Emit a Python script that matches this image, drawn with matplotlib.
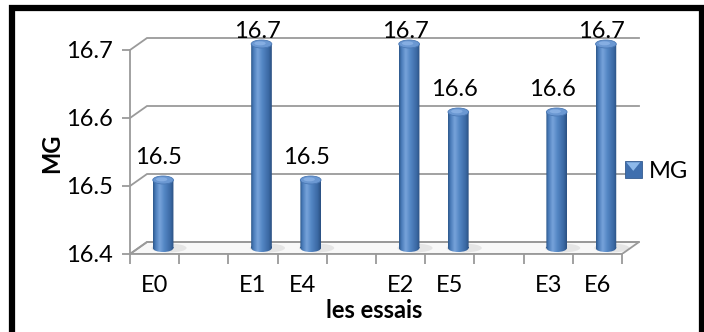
import numpy as np
import matplotlib
matplotlib.use("Agg")
import matplotlib.pyplot as plt
from matplotlib.patches import Polygon, Ellipse, Rectangle, PathPatch
from matplotlib.path import Path
from matplotlib.legend_handler import HandlerBase
from matplotlib.colors import LinearSegmentedColormap

# ---------------- data ----------------
categories = ["E0", "", "E1", "E4", "", "E2", "E5", "", "E3", "E6"]
values = [16.5, None, 16.7, 16.5, None, 16.7, 16.6, None, 16.6, 16.7]
y_ticks = [16.4, 16.5, 16.6, 16.7]
y_tick_labels = ["16.4", "16.5", "16.6", "16.7"]
series_name = "MG"
x_label = "les essais"
y_label = "MG"

plt.rcParams['font.family'] = ['Lato', 'DejaVu Sans']
FS = 17

# ---------------- geometry ----------------
W, H = 704, 332
fig = plt.figure(figsize=(W / 100, H / 100), dpi=100)
fig.patch.set_facecolor("white")

n = len(categories)
ymin, ymax = y_ticks[0], y_ticks[-1]
px_x = 49.2          # pixels per category
px_y = 680.0         # pixels per value unit
x_lim_hi = n + 0.5
y_lim_hi = ymax + 0.1
left_px, bottom_px = 130, H - 254
ax_w_px = px_x * x_lim_hi
ax_h_px = px_y * (y_lim_hi - ymin)
ax = fig.add_axes([left_px / W, bottom_px / H, ax_w_px / W, ax_h_px / H])
ax.set_xlim(0, x_lim_hi)
ax.set_ylim(ymin, y_lim_hi)
ax.patch.set_alpha(0)

# depth offsets (data units)
dxu = 17 / px_x
dyu = 12 / px_y
grid_c = "#9a9a9a"

# floor
floor = Polygon([(0, ymin), (n, ymin), (n + dxu, ymin + dyu), (dxu, ymin + dyu)],
                closed=True, facecolor="#f8f8f8", edgecolor=grid_c, lw=1.3, zorder=1)
ax.add_patch(floor)

# gridlines (left wall diagonal + back wall)
for t in y_ticks:
    ax.plot([0, dxu, n + dxu], [t, t + dyu, t + dyu], color=grid_c, lw=1.3,
            zorder=1.5, solid_joinstyle="miter")

# spines
for s in ["top", "right"]:
    ax.spines[s].set_visible(False)
ax.spines["left"].set_bounds(ymin, ymax)
ax.spines["bottom"].set_bounds(0, n)
for s in ["left", "bottom"]:
    ax.spines[s].set_color(grid_c)
    ax.spines[s].set_linewidth(1.3)

ax.set_yticks(y_ticks)
ax.set_yticklabels(y_tick_labels)
ax.tick_params(axis="y", direction="out", length=5.5, width=1.3, color=grid_c,
               labelsize=FS, pad=7)
ax.set_xticks(np.arange(0, n + 1))
ax.set_xticklabels([])
ax.set_xticks(np.arange(n) + 0.5, minor=True)
ax.set_xticklabels(categories, minor=True)
ax.tick_params(axis="x", which="major", direction="out", length=7, width=1.3, color=grid_c)
ax.tick_params(axis="x", which="minor", length=0, labelsize=FS, pad=15)

# ---------------- cylinders ----------------
cmap = LinearSegmentedColormap.from_list(
    "cyl", [(0.0, "#2c5689"), (0.12, "#4a7cba"), (0.32, "#77a3da"),
            (0.55, "#5386c4"), (0.85, "#3a68a3"), (1.0, "#2a4f80")])
grad = cmap(np.linspace(0, 1, 128))[None, :, :]

bw = 0.42
eh = 8 / px_y
mx, my = dxu / 2, dyu / 2
label_gap = 22 / px_y                # label centre above bar top
label_cap = ymax + 18 / px_y         # labels kept inside chart area
for i, v in enumerate(values):
    if v is None:
        continue
    xc = i + 0.5 + mx
    x0 = xc - bw / 2
    y0 = ymin + my
    y1 = v + my
    # shadow
    ax.add_patch(Ellipse((xc + 0.12, y0), bw * 1.7, eh * 1.1, facecolor="#9a9a9a",
                         alpha=0.2, edgecolor="none", zorder=2))
    rect = Path([(x0, y0), (x0 + bw, y0), (x0 + bw, y1), (x0, y1), (x0, y0)],
                [Path.MOVETO, Path.LINETO, Path.LINETO, Path.LINETO, Path.CLOSEPOLY])
    ell_b = Path.unit_circle()
    ell_b = Path(ell_b.vertices * [bw / 2, eh / 2] + [xc, y0], ell_b.codes)
    clip = Path.make_compound_path(rect, ell_b)
    clip_patch = PathPatch(clip, transform=ax.transData)
    im = ax.imshow(grad, extent=[x0, x0 + bw, y0 - eh / 2, y1], aspect="auto",
                   interpolation="bilinear", zorder=3)
    im.set_clip_path(clip_patch)
    ax.add_patch(Ellipse((xc, y1), bw, eh, facecolor="#6b98d2", edgecolor="#4a78b4",
                         lw=0.6, zorder=4))
    ax.add_patch(Ellipse((xc - 0.03, y1 + eh * 0.08), bw * 0.55, eh * 0.5,
                         facecolor="#86aee2", edgecolor="none", zorder=4.5))
    ly = min(y1 + label_gap, label_cap)
    ax.annotate(f"{v:.1f}", xy=(xc, ly), xytext=(-3, 0),
                textcoords="offset points", ha="center", va="center",
                fontsize=FS, color="black", zorder=6)

ax.set_xlim(0, x_lim_hi)
ax.set_ylim(ymin, y_lim_hi)

# axis labels
ax.set_xlabel(x_label, fontsize=FS, fontweight="bold")
ax.xaxis.set_label_coords((374 - left_px) / ax_w_px, -57 / ax_h_px)
ax.xaxis.label.set_va("center")
ax.set_ylabel(y_label, fontsize=FS, fontweight="bold")
ax.yaxis.set_label_coords((52 - left_px) / ax_w_px, (254 - 153) / ax_h_px)
ax.yaxis.label.set_va("center")


# legend
class CylHandler(HandlerBase):
    def create_artists(self, legend, orig_handle, xd, yd, width, height, fontsize, trans):
        s = min(width, height)
        x = xd * -1 + (width - s) / 2
        y = yd * -1 + (height - s) / 2
        r = Rectangle((x, y), s, s, facecolor="#3f6fae", edgecolor="#345c90", lw=0.6,
                      transform=trans)
        tri = Polygon([(x + s * 0.08, y + s * 0.92), (x + s * 0.92, y + s * 0.92),
                       (x + s * 0.5, y + s * 0.4)], closed=True,
                      facecolor="#8db9ea", edgecolor="none", transform=trans)
        return [r, tri]


handle = Rectangle((0, 0), 1, 1)
leg = fig.legend([handle], [series_name], handler_map={Rectangle: CylHandler()},
                 loc="center left", bbox_to_anchor=(625 / W, 1 - 171 / H),
                 frameon=False, fontsize=FS, borderpad=0, borderaxespad=0,
                 handlelength=0.7, handleheight=0.7, handletextpad=0.3)

# outer frame
fig.add_artist(Rectangle((11.5 / W, -0.2), (702 - 11.5) / W, 1.2 - 8 / H,
                         transform=fig.transFigure, fill=False, edgecolor="black",
                         lw=4.5, clip_on=False))

fig.savefig("out.png", dpi=100)
